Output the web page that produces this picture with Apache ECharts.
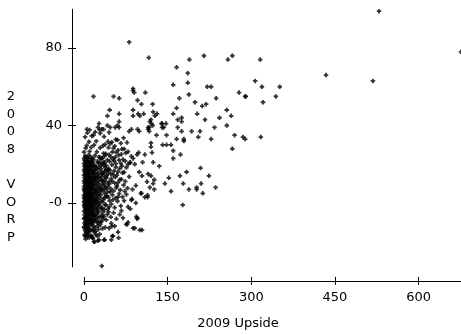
<!DOCTYPE html>
<html>
<head>
<meta charset="utf-8">
<script src="https://cdn.jsdelivr.net/npm/echarts@6/dist/echarts.min.js"></script>
<style>
  html, body { margin: 0; padding: 0; background: #fff; }
  #chart { width: 461px; height: 335px; }
</style>
</head>
<body>
<div id="chart"></div>
<script>
// [2009 Upside, 2008 VORP] pairs
const outerPoints = [
  [529, 99], [676, 78], [434, 66], [518, 63], [81, 83], [116, 75],
  [319, 60], [351, 60], [289, 55], [344, 55], [321, 52], [289, 33], [317, 34],
  [160, 61], [166, 70], [189, 74], [186, 67], [186, 62], [188, 56], [215, 76],
  [221, 60], [228, 60], [237, 54], [199, 52], [212, 50], [219, 51], [203, 46],
  [217, 43], [243, 44], [256, 48], [264, 45], [278, 57], [290, 55], [258, 74],
  [266, 76], [307, 63], [316, 74], [171, 54], [175, 42], [168, 39], [193, 37],
  [208, 37], [234, 39], [256, 40], [270, 35], [285, 34], [205, 34], [228, 33],
  [266, 28], [209, 18], [224, 14], [184, 16], [172, 14], [178, 10], [152, 13],
  [145, 10], [156, 6], [188, 7], [202, 8], [202, 7], [213, 5], [210, 10],
  [236, 8], [177, -1]
];

const midPoints = [
  [17, 55], [53, 55], [63, 54], [88, 58], [88, 59], [90, 57], [110, 57],
  [96, 53], [103, 51], [123, 51], [46, 48], [88, 48], [63, 46], [88, 45],
  [97, 46], [100, 45], [107, 46], [124, 47], [127, 45], [131, 46], [42, 45],
  [63, 42], [120, 43], [118, 42], [27, 41], [25, 39], [32, 38], [35, 38],
  [5, 38], [42, 40], [47, 39], [56, 39], [60, 40], [63, 39], [81, 37],
  [85, 38], [96, 38], [99, 37], [115, 39], [117, 37], [123, 40], [139, 41],
  [147, 41], [143, 39], [160, 46], [166, 49], [168, 43], [175, 44],
  [175, 37], [179, 33], [179, 32], [166, 33], [148, 35], [140, 41], [140, 39],
  [117, 39], [121, 41], [160, 27], [173, 25], [160, 23], [148, 30], [141, 30],
  [156, 30], [130, 35], [120, 31], [120, 29], [115, 38], [17, 35], [29, 36],
  [135, 19], [124, 21], [122, 26], [109, 25], [98, 26], [95, 25], [88, 23],
  [83, 21], [91, 20], [105, 21], [120, 14], [126, 12], [124, 10], [113, 11],
  [104, 14], [99, 16], [115, 15], [126, 7], [118, 8], [109, 3], [114, 3],
  [102, 5], [93, 9], [87, 7], [86, 2], [93, 0], [103, 5], [114, 4], [85, 1.5],
  [61, 3], [73, 6], [79, -2], [67, -4], [94, -7], [83, -3]
];

// the grey fringe right of the black core
const haloPoints = [
  [31, -9.8], [36, -6.9], [40, -8.7], [44, -4.6], [48, -7.3], [53, -5.1], [58, -8.2], [64, -6.0], [70, -7.7],
  [33, -2.6], [39, -1.1], [43, -3.2], [49, -0.6], [55, -2.4], [60, 0.9], [66, -1.5], [72, 1.2],
  [35, 1.8], [41, 3.4], [46, 1.1], [51, 4.2], [57, 2.6], [63, 4.8], [69, 3.1], [76, 4.4],
  [32, 6.9], [38, 8.1], [42, 5.5], [48, 7.4], [53, 6.3], [59, 8.8], [65, 6.7], [71, 9.2], [78, 7.6],
  [34, 11.5], [40, 12.9], [45, 9.8], [50, 11.2], [56, 13.4], [61, 10.5], [67, 12.2], [74, 11.1], [81, 13.6],
  [32, 14.8], [37, 16.4], [43, 17.2], [48, 15.1], [54, 16.6], [59, 14.4], [64, 17.8], [69, 15.6], [76, 18.3],
  [35, 20.9], [40, 19.3], [46, 21.4], [52, 22.7], [57, 20.3], [63, 22.1], [68, 19.0], [74, 21.6], [82, 20.7],
  [33, 23.2], [39, 25.4], [45, 24.9], [51, 26.3], [56, 23.6], [61, 27.2], [67, 25.1], [72, 27.9], [79, 26.5],
  [38, 30.2], [44, 28.6], [50, 31.4], [55, 29.3], [60, 32.5], [66, 30.8], [71, 33.6], [77, 31.2]
];

const lowPoints = [
  [96, -8], [95, -8], [91, -13], [104, -14], [32, -32.5], [18, -20], [27, -19],
  [36, -19], [51, -17], [62, -18], [5, -17], [15, -18], [77, -11], [50, -12],
  [45, -13], [49, -10.5], [55, -12], [76, -11], [79, -10], [88, -13],
  [100, -14], [61, -15], [52, -17], [49, -19], [37, -19], [25, -19.5],
  [19, -20], [13, -17]
];

const corePoints = [
  [3, -18.6], [9, -17.8], [16, -18.2], [24, -17.1], [1, -16.4], [6, -15.7], [12, -16.9], [19, -15.2], [28, -16.1],
  [2, -14.3], [5, -13.6], [8, -14.8], [14, -13.9], [21, -14.5], [33, -13.2], [0, -12.4], [4, -11.7], [7, -12.9],
  [11, -11.5], [17, -12.2], [25, -11.8], [38, -12.6],
  [1, -10.3], [3, -9.6], [6, -10.8], [10, -9.9], [13, -10.4], [18, -9.2], [23, -10.1], [30, -9.5],
  [0, -8.2], [2, -7.5], [5, -8.7], [8, -7.9], [12, -8.4], [15, -7.3], [20, -8.0], [27, -7.6], [35, -8.3],
  [1, -6.1], [4, -5.4], [6, -6.6], [9, -5.8], [11, -6.3], [14, -5.2], [18, -6.0], [22, -5.6], [31, -6.4], [42, -5.9],
  [0, -4.3], [3, -3.7], [5, -4.6], [7, -3.2], [10, -4.1], [13, -3.5], [16, -4.4], [21, -3.9], [26, -4.2], [37, -3.4],
  [1, -2.2], [2, -1.4], [4, -2.6], [6, -1.8], [9, -2.3], [12, -1.5], [15, -2.1], [19, -1.7], [24, -2.4], [29, -1.6], [45, -2.0],
  [0, 0.3], [3, -0.4], [5, 0.7], [8, -0.2], [10, 0.5], [14, -0.6], [17, 0.2], [22, 0.8], [27, -0.3], [33, 0.4],
  [1, 2.2], [2, 1.6], [4, 2.7], [7, 1.4], [9, 2.4], [11, 1.8], [13, 2.9], [18, 1.5], [21, 2.3], [25, 1.9], [36, 2.6], [52, 1.7],
  [0, 4.1], [3, 3.6], [6, 4.5], [8, 3.8], [12, 4.3], [15, 3.5], [20, 4.7], [24, 3.9], [30, 4.2], [40, 3.7],
  [1, 6.3], [2, 5.7], [5, 6.6], [7, 5.9], [10, 6.2], [14, 5.5], [17, 6.8], [23, 6.1], [28, 5.6], [34, 6.4], [47, 5.8],
  [0, 8.4], [4, 7.6], [6, 8.7], [9, 7.8], [12, 8.2], [16, 7.5], [19, 8.9], [26, 8.1], [31, 7.7], [43, 8.5], [58, 7.9],
  [1, 10.2], [3, 9.6], [5, 10.7], [8, 9.8], [11, 10.4], [15, 9.5], [21, 10.9], [25, 10.1], [33, 9.7], [39, 10.6], [55, 10.3],
  [2, 12.3], [4, 11.6], [7, 12.8], [10, 11.9], [13, 12.5], [18, 11.7], [22, 12.9], [29, 12.2], [36, 11.8], [49, 12.6], [64, 12.0],
  [0, 14.4], [3, 13.7], [6, 14.9], [9, 13.6], [14, 14.2], [17, 13.8], [24, 14.6], [27, 13.5], [41, 14.1], [52, 14.7],
  [1, 16.2], [5, 15.6], [8, 16.8], [12, 15.9], [16, 16.5], [20, 15.7], [30, 16.3], [35, 15.5], [46, 16.9], [61, 16.1], [72, 15.8],
  [2, 18.4], [4, 17.7], [7, 18.8], [11, 17.9], [15, 18.2], [22, 17.6], [26, 18.7], [38, 18.1], [44, 17.8], [57, 18.5],
  [0, 20.3], [3, 19.6], [6, 20.7], [10, 19.8], [13, 20.5], [19, 19.5], [28, 20.9], [33, 20.2], [50, 19.7], [66, 20.4], [79, 19.9],
  [1, 22.1], [5, 21.6], [9, 22.6], [14, 21.8], [17, 22.4], [24, 21.5], [31, 22.8], [42, 22.2], [54, 21.7], [70, 22.5],
  [2, 24.3], [4, 23.6], [8, 24.7], [12, 23.9], [20, 24.5], [27, 23.7], [37, 24.2], [48, 23.8], [62, 24.6], [85, 24.1],
  [0, 26.2], [10, 26.6], [23, 26.4], [35, 25.6], [58, 26.1], [75, 25.8],
  [3, 28.3], [13, 28.7], [29, 28.5], [53, 28.2], [68, 27.8],
  [5, 29.7], [18, 29.9], [34, 29.6], [47, 30.6],
  [9, 31.6], [22, 31.9], [43, 31.7], [57, 32.8],
  [2, 34.1], [14, 34.6], [36, 34.3],
  [6, 36.2], [20, 36.6], [45, 36.4],
  [10, 37.7], [28, 37.9]
];

// second pass over the black core, between the rows above
const coreFill = [
  [2, -17.2], [7, -16.6], [14, -17.5], [21, -16.3], [4, -15.1], [10, -14.6], [17, -14.0], [26, -13.6],
  [1, -13.1], [6, -12.3], [9, -13.4], [15, -11.1], [20, -12.7], [29, -11.2],
  [2, -11.0], [5, -9.3], [8, -10.5], [12, -9.0], [16, -10.0], [21, -8.8], [26, -9.9],
  [1, -7.8], [4, -7.0], [7, -8.6], [10, -7.1], [14, -8.9], [17, -6.8], [24, -7.1], [32, -7.2],
  [3, -5.1], [5, -6.9], [8, -4.8], [12, -5.6], [16, -5.3], [20, -6.5], [25, -5.0], [34, -4.8],
  [2, -3.3], [4, -4.0], [6, -2.9], [9, -3.6], [11, -2.7], [14, -3.0], [18, -3.3], [23, -2.8], [31, -3.0],
  [0, -1.1], [3, -2.0], [5, -0.9], [7, -1.2], [11, -0.7], [13, -0.2], [16, -1.0], [20, -0.5], [25, -0.9], [38, -0.8],
  [1, 1.0], [4, 0.6], [6, 1.2], [9, 0.9], [12, 1.1], [15, 0.3], [19, 1.3], [23, 0.5], [30, 1.0],
  [0, 2.9], [3, 3.0], [5, 2.0], [8, 2.6], [10, 3.2], [14, 2.2], [16, 3.0], [22, 3.4], [28, 2.8], [44, 2.9],
  [2, 4.9], [4, 4.3], [7, 5.2], [9, 4.8], [11, 5.3], [13, 4.4], [18, 5.1], [21, 5.6], [26, 4.6], [37, 5.0],
  [0, 7.1], [3, 6.8], [6, 7.3], [8, 6.9], [11, 7.2], [13, 6.6], [15, 7.9], [20, 7.0], [24, 7.4], [29, 6.9], [40, 7.2],
  [2, 9.1], [5, 8.8], [7, 9.4], [10, 8.9], [13, 9.3], [17, 9.8], [22, 9.2], [28, 9.0], [36, 9.1],
  [0, 11.2], [3, 11.0], [6, 11.4], [9, 10.8], [12, 11.0], [16, 11.3], [20, 11.9], [26, 11.4], [32, 11.2], [45, 11.0],
  [1, 13.1], [5, 12.9], [8, 13.2], [11, 13.3], [16, 13.0], [20, 13.6], [23, 13.1], [31, 13.3], [38, 13.7],
  [2, 15.2], [4, 14.8], [7, 15.3], [10, 15.0], [14, 15.6], [18, 15.1], [25, 15.4], [33, 14.9], [43, 15.3],
  [0, 17.2], [3, 16.9], [6, 17.1], [9, 17.3], [13, 16.9], [18, 17.0], [24, 17.4], [30, 17.6], [40, 16.8],
  [1, 19.0], [5, 18.8], [8, 19.4], [12, 19.1], [16, 19.2], [21, 18.7], [31, 19.1], [36, 19.6],
  [2, 21.1], [7, 21.4], [11, 21.0], [16, 20.8], [26, 20.6], [37, 21.0],
  [0, 23.0], [6, 23.2], [15, 23.1], [29, 23.4]
];

const xTicks = [0, 150, 300, 450, 600];
const yTicks = [0, 40, 80];

const FONT = "DejaVu Sans";
const plus = "path://M1.5,0H3.5V1.5H5V3.5H3.5V5H1.5V3.5H0V1.5H1.5Z";

const chart = echarts.init(document.getElementById("chart"));

const axisBase = {
  type: "value",
  splitLine: { show: false },
  axisLine: { onZero: false, lineStyle: { color: "#000", width: 1 } },
};

chart.setOption({
  animation: false,
  grid: { left: 84, right: 0, top: 9.25, bottom: 68.1, outerBoundsMode: "none" },
  xAxis: [
    {
      ...axisBase,
      min: 0,
      max: 676,
      offset: 14,
      axisTick: { customValues: xTicks, length: 4, lineStyle: { color: "#000" } },
      axisLabel: {
        customValues: xTicks,
        margin: 10,
        color: "#000",
        fontFamily: FONT,
        fontSize: 13,
      },
    },
    {
      ...axisBase,
      min: 0,
      max: 676,
      offset: 14,
      position: "bottom",
      axisLine: { show: false, onZero: false },
      axisTick: { customValues: xTicks, inside: true, length: 4, lineStyle: { color: "#000" } },
      axisLabel: { show: false },
    },
  ],
  yAxis: [
    {
      ...axisBase,
      min: -33,
      max: 100,
      offset: 12,
      axisTick: { customValues: yTicks, length: 4, lineStyle: { color: "#000" } },
      axisLabel: {
        customValues: yTicks,
        margin: 10,
        color: "#000",
        fontFamily: FONT,
        fontSize: 13,
        formatter: (v) => (v === 0 ? "-0" : String(v)),
      },
    },
    {
      ...axisBase,
      min: -33,
      max: 100,
      offset: 12,
      position: "left",
      axisLine: { show: false, onZero: false },
      axisTick: { customValues: yTicks, inside: true, length: 4, lineStyle: { color: "#000" } },
      axisLabel: { show: false },
    },
  ],
  graphic: [
    {
      type: "text",
      x: 238,
      y: 324,
      style: {
        text: "2009 Upside",
        fill: "#000",
        font: "13px " + FONT,
        textAlign: "center",
        textVerticalAlign: "middle",
      },
    },
    {
      type: "text",
      x: 11,
      y: 167,
      style: {
        text: "2\n0\n0\n8\n\nV\nO\nR\nP",
        fill: "#000",
        font: "13px " + FONT,
        lineHeight: 17.6,
        textAlign: "center",
        textVerticalAlign: "middle",
      },
    },
  ],
  series: [
    {
      type: "scatter",
      xAxisIndex: 0,
      yAxisIndex: 0,
      symbol: plus,
      symbolSize: 4.5,
      itemStyle: { color: "#000" },
      data: [...corePoints, ...coreFill, ...haloPoints, ...midPoints, ...lowPoints, ...outerPoints],
    },
  ],
});

window.addEventListener("resize", () => chart.resize());
</script>
</body>
</html>
